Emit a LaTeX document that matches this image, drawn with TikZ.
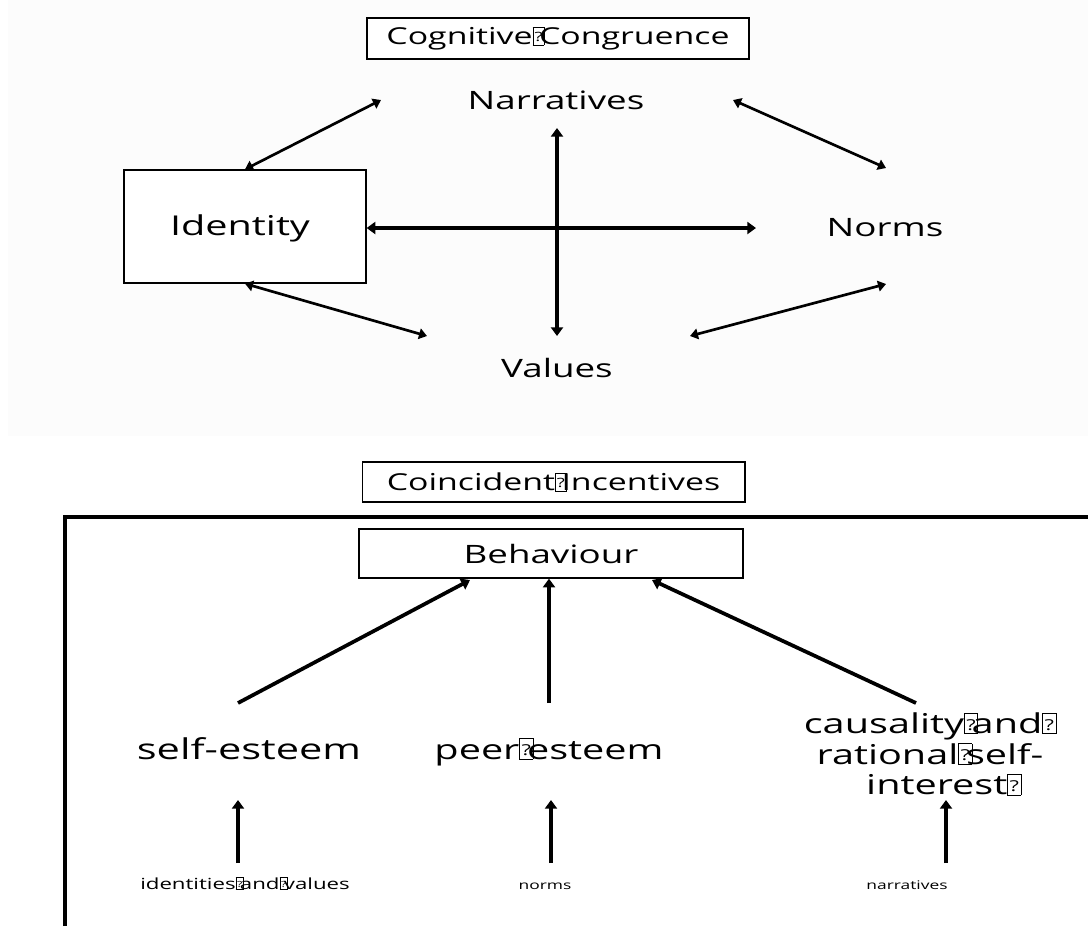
\documentclass[tikz,border=0pt]{standalone}
\usepackage{graphicx}
\usepackage{fontspec}
\setmainfont{Open Sans}[FakeStretch=1.45]
\usetikzlibrary{arrows.meta}
\definecolor{bgpale}{HTML}{FCFCFC}
\newcommand{\gbox}{\setlength{\fboxsep}{0pt}\setlength{\fboxrule}{0.45pt}\fbox{\makebox[0.46em]{\rule{0pt}{0.74em}\raisebox{0.12em}{\scalebox{0.55}{?}}}}}
\newcommand{\qb}{\rlap{\gbox}\hspace{0.28em}}
\newcommand{\qe}{\gbox}
\tikzset{
  framebox/.style={draw, line width=1pt, fill=white, inner sep=0pt},
  biglbl/.style={inner sep=0pt, font=\fontsize{19}{22}\selectfont},
  midlbl/.style={inner sep=0pt, font=\fontsize{20.5}{23}\selectfont, align=center},
  smalllbl/.style={inner sep=0pt, font=\fontsize{9}{11}\selectfont, anchor=base},
  hdr/.style={font=\fontsize{17.5}{20}\selectfont},
  thinarr/.style={line width=2pt, {Triangle[width=8pt,length=6pt]}-{Triangle[width=8pt,length=6pt]}},
  crossarr/.style={line width=2.8pt, {Triangle[width=9pt,length=6.5pt]}-{Triangle[width=9pt,length=6.5pt]}},
  uparr/.style={line width=2.8pt, -{Triangle[width=9pt,length=6.5pt]}}
}
\begin{document}
\begin{tikzpicture}[x=0.75pt,y=-0.75pt]
\useasboundingbox (0,0) rectangle (1088,926);
\fill[bgpale] (8,0) rectangle (1088,436);

% top part
\node[framebox, hdr, minimum width=286.5pt, minimum height=30.75pt] (cc) at (558,38.5) {Cognitive\qb Congruence};
\node[biglbl] (narr) at (556,100) {Narratives};
\node[framebox, minimum width=181.5pt, minimum height=84.75pt] (id) at (245,226.5) {};
\node[biglbl, font=\fontsize{20.5}{22}\selectfont] (idt) at (240,228) {Identity};
\node[biglbl] (norms) at (885,228) {Norms};
\node[biglbl] (vals) at (557,368) {Values};

\coordinate (vtop) at (557,128);
\coordinate (vbot) at (557,336);
\coordinate (hright) at (756,228);
\coordinate (nl) at (381,100);
\coordinate (nr) at (733,100);
\coordinate (nmt) at (886,168);
\coordinate (nmb) at (886,284);
\coordinate (vl) at (427,336);
\coordinate (vr) at (690,336);

\draw[crossarr] (vtop) -- (vbot);
\draw[crossarr] (id.east |- hright) -- (hright);
\draw[thinarr] (nl) -- (id.north);
\draw[thinarr] (nr) -- (nmt);
\draw[thinarr] (id.south) -- (vl);
\draw[thinarr] (nmb) -- (vr);

% bottom part
\node[framebox, hdr, minimum width=287pt, minimum height=30pt] (ci) at (553.5,482) {Coincident\qb Incentives};
\draw[line width=3pt] (64.5,926) -- (64.5,516.5) -- (1088,516.5);
\node[framebox, biglbl, minimum width=288pt, minimum height=36.75pt] (beh) at (551,553.5) {Behaviour};

\node[midlbl, anchor=base, font=\fontsize{21.5}{23}\selectfont] (se) at (249,759) {self-esteem};
\node[midlbl, anchor=base] (pe) at (549,759) {peer\qb esteem};
\node[midlbl] (cr) at (930,754) {causality\qb and\qe\\rational\qb self-\\\hspace*{1em}interest\qe};

\coordinate (sa) at (238,703);
\coordinate (pa) at (549,703);
\coordinate (ca) at (916,703);
\coordinate (b1) at (470,580);
\coordinate (b3) at (652,580);
\draw[uparr] (sa) -- (b1);
\draw[uparr] (pa) -- (pa |- beh.south);
\draw[uparr] (ca) -- (b3);

\node[smalllbl, font=\fontsize{11.5}{13}\selectfont] (iv) at (245,889) {identities\qb and\qb values};
\node[smalllbl] (nm) at (545,889) {norms};
\node[smalllbl] (nr2) at (907,889) {narratives};

\coordinate (s1) at (238,863);
\coordinate (s2) at (551,863);
\coordinate (s3) at (946,863);
\coordinate (t1) at (238,800);
\coordinate (t2) at (551,800);
\coordinate (t3) at (946,800);
\draw[uparr] (s1) -- (t1);
\draw[uparr] (s2) -- (t2);
\draw[uparr] (s3) -- (t3);
\end{tikzpicture}
\end{document}
